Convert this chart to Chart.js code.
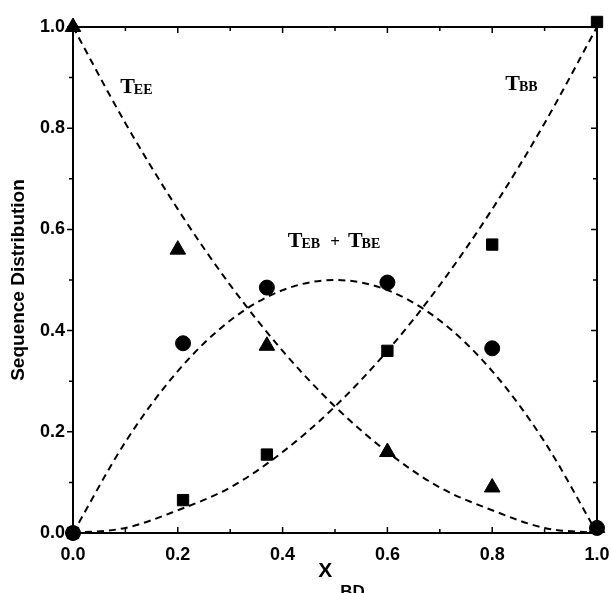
<!DOCTYPE html>
<html>
<head>
<meta charset="utf-8">
<script src="https://cdn.jsdelivr.net/npm/chart.js@4.4.1/dist/chart.umd.min.js"></script>
<style>
  html, body { margin: 0; padding: 0; background: #fff; }
  #wrap { width: 611px; height: 593px; }
</style>
</head>
<body>
<div id="wrap"><canvas id="chart-area" width="611" height="593"></canvas></div>
<script>
// dashed curves, read at x = 0, 0.1 ... 1.0
var curveX = [0, 0.1, 0.2, 0.3, 0.4, 0.5, 0.6, 0.7, 0.8, 0.9, 1.0];
var teeCurve = [1.0, 0.81, 0.64, 0.49, 0.36, 0.25, 0.16, 0.09, 0.045, 0.01, 0.0];
var tbbCurve = [0.0, 0.01, 0.045, 0.09, 0.16, 0.25, 0.36, 0.49, 0.64, 0.81, 1.0];
var tebCurve = [0.0, 0.18, 0.32, 0.42, 0.48, 0.50, 0.48, 0.42, 0.32, 0.18, 0.0];

// measured points
var triX = [0, 0.2, 0.37, 0.6, 0.8, 1.0];
var triY = [1.0, 0.56, 0.37, 0.16, 0.09, 0.01];
var circX = [0, 0.21, 0.37, 0.6, 0.8, 1.0];
var circY = [0, 0.375, 0.485, 0.495, 0.365, 0.01];
var sqX = [0, 0.21, 0.37, 0.6, 0.8, 1.0];
var sqY = [0, 0.065, 0.155, 0.36, 0.57, 1.01];

var majorTicks = [0, 0.2, 0.4, 0.6, 0.8, 1.0];
var minorTicks = [0.1, 0.3, 0.5, 0.7, 0.9];

function pts(xs, ys) {
  var out = [];
  for (var i = 0; i < xs.length; i++) out.push({x: xs[i], y: ys[i]});
  return out;
}

function curve(ys) {
  return {
    data: pts(curveX, ys),
    showLine: true,
    borderColor: '#000',
    borderWidth: 2,
    borderDash: [7, 5],
    pointRadius: 0,
    cubicInterpolationMode: 'monotone',
    clip: false
  };
}

function marks(xs, ys, style, r) {
  return {
    data: pts(xs, ys),
    showLine: false,
    pointStyle: style,
    pointRadius: r,
    backgroundColor: '#000',
    borderColor: '#000',
    borderWidth: 1,
    clip: false
  };
}

// frame, ticks, curve labels and x title
var decor = {
  id: 'decor',
  afterDatasetsDraw: function(chart) {
    var c = chart.ctx, a = chart.chartArea;
    var xs = chart.scales.x, ys = chart.scales.y;
    c.save();
    c.strokeStyle = '#000';
    c.lineWidth = 2;
    c.strokeRect(a.left, a.top, a.right - a.left, a.bottom - a.top);
    c.lineWidth = 1.5;
    c.beginPath();
    majorTicks.concat(minorTicks).forEach(function(v) {
      var len = majorTicks.indexOf(v) >= 0 ? 6 : 4;
      var px = xs.getPixelForValue(v), py = ys.getPixelForValue(v);
      c.moveTo(px, a.bottom); c.lineTo(px, a.bottom - len);
      c.moveTo(px, a.top); c.lineTo(px, a.top + len);
      c.moveTo(a.left, py); c.lineTo(a.left - len, py);
      c.moveTo(a.right, py); c.lineTo(a.right - len, py);
    });
    c.stroke();

    c.fillStyle = '#000';
    c.textBaseline = 'alphabetic';
    function tlabel(parts, vx, vy) {
      var x = xs.getPixelForValue(vx), y = ys.getPixelForValue(vy);
      parts.forEach(function(p) {
        c.font = p[1];
        c.fillText(p[0], x, y + (p[2] || 0));
        x += c.measureText(p[0]).width + (p[3] || 0);
      });
    }
    var big = 'bold 22px "Liberation Serif"', sub = 'bold 14px "Liberation Serif"';
    tlabel([['T', big, 0, -1], ['EE', sub, 1]], 0.09, 0.87);
    tlabel([['T', big, 0, -1], ['BB', sub, 1]], 0.825, 0.875);
    tlabel([['T', big, 0, -1], ['EB', sub, 1, 10], ['+', 'bold 17px "Liberation Serif"', 0, 8], ['T', big, 0, -1], ['BE', sub, 1]], 0.41, 0.565);

    tlabel([['X', 'bold 21px "Liberation Sans"', 0, 8], ['BD', 'bold 17px "Liberation Sans"', 20]], 0.468, -0.087);
    c.restore();
  }
};

var ctx = document.getElementById('chart-area');
var myChart = new Chart(ctx, {
  type: 'scatter',
  data: {
    datasets: [
      curve(teeCurve),
      curve(tbbCurve),
      curve(tebCurve),
      marks(triX, triY, 'triangle', 9),
      marks(circX, circY, 'circle', 7.5),
      marks(sqX, sqY, 'rect', 8)
    ]
  },
  options: {
    responsive: false,
    animation: false,
    layout: { padding: { top: 27, right: 14, left: 0, bottom: 0 } },
    plugins: { legend: { display: false }, tooltip: { enabled: false } },
    scales: {
      x: {
        type: 'linear', min: 0, max: 1,
        grid: { display: false, drawTicks: false },
        border: { display: false },
        afterFit: function(s) { s.height = 60; s.paddingLeft = 0; s.paddingRight = 0; },
        afterBuildTicks: function(s) { s.ticks = majorTicks.map(function(v) { return {value: v}; }); },
        ticks: {
          padding: 11, color: '#000',
          font: { family: 'Liberation Sans', weight: 'bold', size: 18 },
          callback: function(v) { return v.toFixed(1); }
        }
      },
      y: {
        type: 'linear', min: 0, max: 1,
        grid: { display: false, drawTicks: false },
        border: { display: false },
        afterFit: function(s) { s.width = 73; s.paddingTop = 0; s.paddingBottom = 0; },
        afterBuildTicks: function(s) { s.ticks = majorTicks.map(function(v) { return {value: v}; }); },
        title: {
          display: true, text: 'Sequence Distribution', color: '#000',
          font: { family: 'Liberation Sans', weight: 'bold', size: 19 },
          padding: { top: 7, bottom: 0 }
        },
        ticks: {
          padding: 8, color: '#000',
          font: { family: 'Liberation Sans', weight: 'bold', size: 18 },
          callback: function(v) { return v.toFixed(1); }
        }
      }
    }
  },
  plugins: [decor]
});
</script>
</body>
</html>
